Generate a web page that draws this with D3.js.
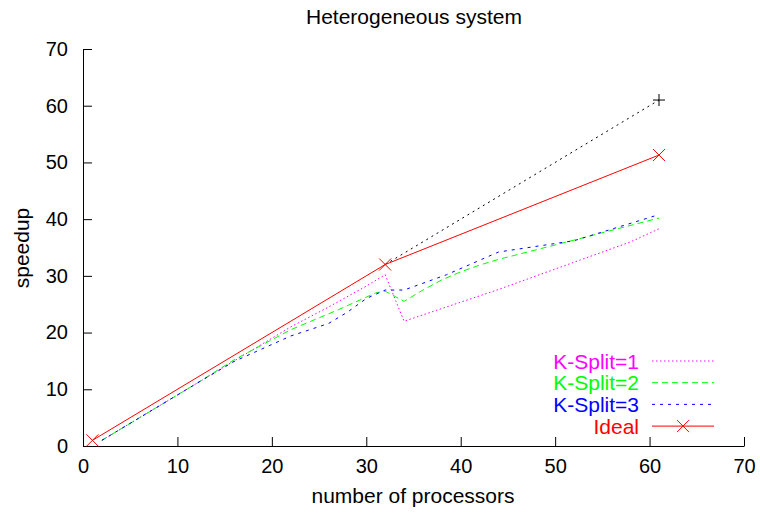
<!DOCTYPE html>
<html lang="en">
<head>
  <meta charset="UTF-8">
  <title>Heterogeneous system</title>
  <style>
    body { margin: 0; background: #fff; }
    text { font-family: "Liberation Sans", Arial, sans-serif; }
  </style>
</head>
<body>
  <svg width=760 height=514 id="viz"></svg>

  <script src="https://cdn.jsdelivr.net/npm/d3@7"></script>
  <script>
/* global d3 */

// data: [processors, speedup]
let kSplit1 = [[2, 1], [12, 11], [16, 15], [22, 21], [26, 24.5], [30, 28.2], [32, 30.2],
  [34, 22], [44, 27.6], [58, 36], [61, 38.3]];
let kSplit2 = [[2, 1], [12, 11], [16, 15.2], [22, 20.5], [27, 24], [31, 27], [32, 27.3],
  [34, 25.5], [36, 27.5], [38, 29.3], [40, 30.7], [42, 31.9], [44, 32.9], [52, 36.3], [61, 40.2]];
let kSplit3 = [[2, 1], [12, 11], [16, 14.9], [22, 19.4], [24, 20.5], [26, 21.6], [28, 23.6],
  [30, 26], [32, 27.5], [34, 27.5], [38.5, 30.2], [44, 34.2], [52, 36.2], [61, 40.8]];
let ideal = [[1, 1], [32, 32], [61, 51.3]];
let linear = [[32, 32], [61, 61]];
let linearMarks = [[61, 61]];

let xTicks = [0, 10, 20, 30, 40, 50, 60, 70];
let yTicks = [0, 10, 20, 30, 40, 50, 60, 70];

let series = [
  {name: "K-Split=1", data: kSplit1, color: "#ff00ff", dash: "1.5,2.5"},
  {name: "K-Split=2", data: kSplit2, color: "#00ff00", dash: "6,4"},
  {name: "K-Split=3", data: kSplit3, color: "#0000ff", dash: "3,5"}
];

let svg = d3.select("#viz"),
  margin = {top: 49, left: 83, right: 16, bottom: 68},
  width = +svg.attr("width") - margin.left - margin.right,
  height = +svg.attr("height") - margin.top - margin.bottom,
  g = svg.append("g").attr("transform", "translate(" + margin.left + "," + margin.top + ")");

let x = d3.scaleLinear().domain([0, 70]).range([0, width]);
let y = d3.scaleLinear().domain([0, 70]).range([height, 0]);

let line = d3.line().x(d => x(d[0])).y(d => y(d[1]));

// axes, ticks pointing inward
let xAxis = g.append("g")
  .attr("transform", "translate(0," + height + ")")
  .call(d3.axisBottom(x).tickValues(xTicks).tickSizeInner(-9).tickSizeOuter(0).tickPadding(13));

let yAxis = g.append("g")
  .call(d3.axisLeft(y).tickValues(yTicks).tickSizeInner(-9).tickSizeOuter(0).tickPadding(15));

[xAxis, yAxis].forEach(a => {
  a.selectAll("text").attr("font-size", 20).attr("fill", "#000")
    .style("font-family", "'Liberation Sans', Arial, sans-serif");
  a.selectAll("line").attr("stroke", "#000");
  a.select(".domain").attr("stroke", "#000");
});

// linear reference
g.append("path")
  .datum(linear)
  .attr("fill", "none")
  .attr("stroke", "#000")
  .attr("stroke-width", 1)
  .attr("stroke-dasharray", "2,4")
  .attr("d", line);

g.selectAll(".plus")
  .data(linearMarks)
  .enter()
  .append("path")
  .attr("class", "plus")
  .attr("transform", d => "translate(" + x(d[0]) + "," + y(d[1]) + ")")
  .attr("d", "M-6,0H6M0,-6V6")
  .attr("stroke", "#000")
  .attr("stroke-width", 1);

series.forEach(s => {
  g.append("path")
    .datum(s.data)
    .attr("fill", "none")
    .attr("stroke", s.color)
    .attr("stroke-width", 1)
    .attr("stroke-dasharray", s.dash)
    .attr("d", line);
});

g.append("path")
  .datum(ideal)
  .attr("fill", "none")
  .attr("stroke", "#ff0000")
  .attr("stroke-width", 1)
  .attr("d", line);

let cross = "M-6,-6L6,6M-6,6L6,-6";

g.selectAll(".cross")
  .data(ideal)
  .enter()
  .append("path")
  .attr("class", "cross")
  .attr("transform", d => "translate(" + x(d[0]) + "," + y(d[1]) + ")")
  .attr("d", cross)
  .attr("stroke", "#ff0000")
  .attr("stroke-width", 1);

// legend
let legendItems = series.concat([{name: "Ideal", color: "#ff0000", dash: null, mark: true}]);
let legend = svg.append("g").attr("transform", "translate(0,361)");

legendItems.forEach((s, i) => {
  let row = legend.append("g").attr("transform", "translate(0," + (i * 21.7) + ")");
  row.append("text")
    .attr("x", 639)
    .attr("y", 0)
    .attr("dy", "0.36em")
    .attr("text-anchor", "end")
    .attr("font-size", 21)
    .attr("fill", s.color)
    .text(s.name);
  row.append("line")
    .attr("x1", 652).attr("x2", 714)
    .attr("y1", 0).attr("y2", 0)
    .attr("stroke", s.color)
    .attr("stroke-width", 1)
    .attr("stroke-dasharray", s.dash);
  if (s.mark) {
    row.append("path")
      .attr("transform", "translate(683,0)")
      .attr("d", cross)
      .attr("stroke", s.color)
      .attr("stroke-width", 1);
  }
});

// labels
svg.append("text")
  .attr("x", 414)
  .attr("y", 24)
  .attr("text-anchor", "middle")
  .attr("font-size", 21)
  .text("Heterogeneous system");

svg.append("text")
  .attr("x", 413)
  .attr("y", 503)
  .attr("text-anchor", "middle")
  .attr("font-size", 21)
  .text("number of processors");

svg.append("text")
  .attr("transform", "translate(29,248) rotate(-90)")
  .attr("text-anchor", "middle")
  .attr("font-size", 21)
  .text("speedup");
  </script>
</body>
</html>
